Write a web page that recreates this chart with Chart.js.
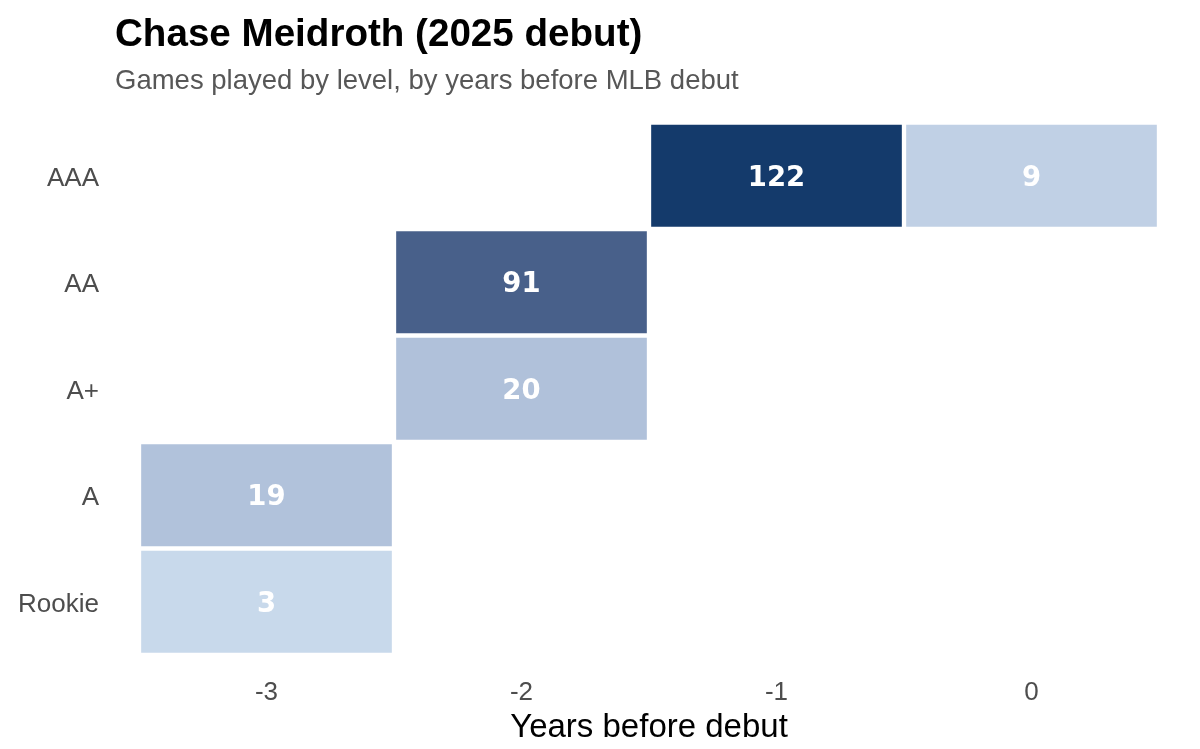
<!DOCTYPE html>
<html lang="en">
<head>
  <meta charset="UTF-8">
  <title>Chase Meidroth (2025 debut)</title>
  <script src="https://cdn.jsdelivr.net/npm/chart.js"></script>
  <style>
    html, body {
      margin: 0;
      padding: 0;
      background-color: #ffffff;
    }
    #wrap {
      width: 1200px;
      height: 749px;
    }
  </style>
</head>
<body>

<div id="wrap"><canvas id="levelChart" width="1200" height="749"></canvas></div>

<script>
  // Data
  const years = ["-3", "-2", "-1", "0"];
  const levels = ["Rookie", "A", "A+", "AA", "AAA"];
  const rookieGames = [3, null, null, null];
  const aGames = [19, null, null, null];
  const aPlusGames = [null, 20, null, null];
  const aaGames = [null, 91, null, null];
  const aaaGames = [null, null, 122, 9];
  const gamesByLevel = [rookieGames, aGames, aPlusGames, aaGames, aaaGames];

  // Fill scale, light to dark
  const fillStops = [[3, "#c8d9eb"], [9, "#c0d0e5"], [20, "#b0c1da"], [91, "#48608a"], [122, "#143a6b"]];

  function hexToRgb(hex) {
    const n = parseInt(hex.slice(1), 16);
    return [(n >> 16) & 255, (n >> 8) & 255, n & 255];
  }

  function fillFor(v) {
    if (v <= fillStops[0][0]) return fillStops[0][1];
    for (let i = 1; i < fillStops.length; i++) {
      const [v1, c1] = fillStops[i];
      if (v <= v1) {
        const [v0, c0] = fillStops[i - 1];
        const t = (v - v0) / (v1 - v0);
        const a = hexToRgb(c0), b = hexToRgb(c1);
        const rgb = a.map((x, j) => Math.round(x + (b[j] - x) * t));
        return `rgb(${rgb.join(",")})`;
      }
    }
    return fillStops[fillStops.length - 1][1];
  }

  const datasets = levels.map((level, k) => ({
    label: level,
    games: gamesByLevel[k],
    data: gamesByLevel[k].map((g) => (g == null ? null : [k, k + 1])),
    backgroundColor: gamesByLevel[k].map((g) => (g == null ? "rgba(0,0,0,0)" : fillFor(g))),
    borderColor: "#ffffff",
    borderWidth: 2.5,
    borderSkipped: false,
    grouped: false,
    barPercentage: 1,
    categoryPercentage: 1,
  }));

  // Title + subtitle, left aligned like the original
  const headerPlugin = {
    id: "header",
    afterDraw(chart) {
      const ctx = chart.ctx;
      ctx.save();
      ctx.textAlign = "left";
      ctx.textBaseline = "alphabetic";
      ctx.fillStyle = "#000000";
      ctx.font = 'bold 38.6px "Liberation Sans", Arial, sans-serif';
      ctx.fillText("Chase Meidroth (2025 debut)", 115, 46);
      ctx.fillStyle = "#575757";
      ctx.font = '27.5px "Liberation Sans", Arial, sans-serif';
      ctx.fillText("Games played by level, by years before MLB debut", 115, 89);
      ctx.restore();
    },
  };

  // Game counts in the middle of each tile
  const tileLabels = {
    id: "tileLabels",
    afterDatasetsDraw(chart) {
      const ctx = chart.ctx;
      ctx.save();
      ctx.fillStyle = "#ffffff";
      ctx.font = 'bold 27.5px "DejaVu Sans", sans-serif';
      ctx.textAlign = "center";
      ctx.textBaseline = "middle";
      chart.data.datasets.forEach((ds, i) => {
        chart.getDatasetMeta(i).data.forEach((bar, j) => {
          const g = ds.games[j];
          if (g == null) return;
          ctx.fillText(String(g), bar.x, (bar.y + bar.base) / 2 + 3);
        });
      });
      ctx.restore();
    },
  };

  new Chart(document.getElementById("levelChart"), {
    type: "bar",
    data: { labels: years, datasets: datasets },
    options: {
      responsive: false,
      animation: false,
      layout: { padding: { top: 122.5, right: 41, left: 0, bottom: 0 } },
      plugins: {
        legend: { display: false },
        tooltip: { enabled: false },
      },
      scales: {
        x: {
          type: "category",
          grid: { display: false },
          border: { display: false },
          ticks: {
            color: "#4d4d4d",
            font: { family: '"Liberation Sans", Arial, sans-serif', size: 26 },
            padding: 14,
          },
          title: {
            display: true,
            text: "Years before debut",
            color: "#000000",
            font: { family: '"Liberation Sans", Arial, sans-serif', size: 33, lineHeight: 1 },
            padding: { top: 0, bottom: 5 },
          },
          afterFit(scale) { scale.height = 94; },
        },
        y: {
          type: "linear",
          min: 0,
          max: levels.length,
          grid: { display: false },
          border: { display: false },
          afterBuildTicks(scale) {
            scale.ticks = levels.map((l, k) => ({ value: k + 0.5 }));
          },
          ticks: {
            color: "#4d4d4d",
            font: { family: '"Liberation Sans", Arial, sans-serif', size: 26 },
            padding: 32,
            labelOffset: 3,
            callback: (v) => levels[Math.round(v - 0.5)],
          },
          afterFit(scale) { scale.width = 139; },
        },
      },
    },
    plugins: [headerPlugin, tileLabels],
  });
</script>

</body>
</html>
